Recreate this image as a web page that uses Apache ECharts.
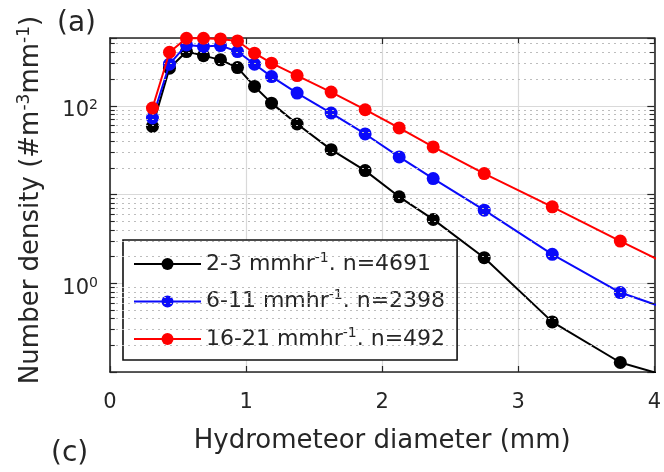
<!DOCTYPE html>
<html>
<head>
<meta charset="utf-8">
<script src="https://cdn.jsdelivr.net/npm/echarts@6/dist/echarts.min.js"></script>
<style>
html,body{margin:0;padding:0;background:#fff;}
#chart{width:664px;height:472px;}
</style>
</head>
<body>
<div id="chart"></div>
<script>
// ---- data ----
const diameters = [0.312, 0.437, 0.562, 0.687, 0.812, 0.937, 1.062, 1.187, 1.375, 1.625, 1.875, 2.125, 2.375, 2.75, 3.25, 3.75, 4.25];
const light    = [58.5, 265, 408, 367, 329, 269, 165, 107, 62.3, 32.0, 18.6, 9.42, 5.24, 1.94, 0.367, 0.128, 0.077];
const moderate = [72.8, 294, 485, 464, 476, 408, 294, 213, 139, 82.8, 48.1, 26.5, 15.1, 6.66, 2.12, 0.786, 0.426];
const heavy    = [94.2, 401, 576, 576, 566, 537, 391, 302, 219, 142.6, 90.2, 56.2, 34.4, 17.2, 7.27, 2.99, 1.26];
const seriesNames = ['2-3 mmhr-1. n=4691', '6-11 mmhr-1. n=2398', '16-21 mmhr-1. n=492'];
const seriesColors = ['#000000', '#0a0afa', '#ff0000'];
const xTicks = [0, 1, 2, 3, 4];
const yLabelExponents = [0, 2];
const minorGrid = [0.2,0.3,0.4,0.5,0.6,0.7,0.8,0.9, 2,3,4,5,6,7,8,9, 20,30,40,50,60,70,80,90, 200,300,400,500];

const FONT = 'DejaVu Sans';
const TXT = '#262626';

const chart = echarts.init(document.getElementById('chart'), null, {renderer: 'canvas'});

function pairs(ys){ return diameters.map((d,i)=>[d, ys[i]]); }

const minorLines = minorGrid.map(v => ({yAxis: v}));
const minorTicks = [];
minorGrid.forEach(v => {
  minorTicks.push([{coord:[0, v]}, {coord:[0.035, v]}]);
  minorTicks.push([{coord:[3.965, v]}, {coord:[4, v]}]);
});

const option = {
  animation: false,
  backgroundColor: '#ffffff',
  grid: {left: 110, right: 7, top: 38, bottom: 100, containLabel: false},
  xAxis: [{
    type: 'value', min: 0, max: 4, interval: 1,
    name: 'Hydrometeor diameter (mm)', nameLocation: 'middle', nameGap: 56,
    nameTextStyle: {fontFamily: FONT, fontSize: 26, color: TXT},
    axisLine: {show: true, onZero: false, lineStyle: {color: TXT, width: 1.6}},
    axisTick: {show: true, inside: true, length: 6, lineStyle: {color: TXT, width: 1.2}},
    axisLabel: {fontFamily: FONT, fontSize: 21, color: TXT, margin: 20,
      formatter: v => (xTicks.indexOf(v) >= 0 ? String(v) : '')},
    splitLine: {show: true, lineStyle: {color: '#d9d9d9', width: 1.2}}
  }, {
    type: 'value', min: 0, max: 4, interval: 1, position: 'top',
    axisLine: {show: true, onZero: false, lineStyle: {color: TXT, width: 1.6}},
    axisTick: {show: true, inside: true, length: 6, lineStyle: {color: TXT, width: 1.2}},
    axisLabel: {show: false}, splitLine: {show: false}
  }],
  yAxis: [{
    type: 'log', logBase: 10, min: 0.1, max: 580,
    name: '{t|Number density (#m}{sup|-3}{t|mm}{sup|-1}{t|)}',
    nameLocation: 'middle', nameGap: 64, nameRotate: 90,
    nameTextStyle: {fontFamily: FONT, fontSize: 26, color: TXT, padding: [0, 0, 0, 10],
      rich: {t: {fontFamily: FONT, fontSize: 26, color: TXT, lineHeight: 30},
             sup: {fontFamily: FONT, fontSize: 17, color: TXT, lineHeight: 16, verticalAlign: 'top'}}},
    axisLine: {show: true, onZero: false, lineStyle: {color: TXT, width: 1.6}},
    axisTick: {show: true, inside: true, length: 7, lineStyle: {color: TXT, width: 1.2}},
    axisLabel: {fontFamily: FONT, fontSize: 21, color: TXT, margin: 12, lineHeight: 24,
      padding: [10, 0, 0, 0],
      rich: {sup: {fontSize: 14, fontFamily: FONT, color: TXT, lineHeight: 12, verticalAlign: 'top'}},
      formatter: function (v) {
        const l = Math.log10(v), e = Math.round(l);
        if (Math.abs(l - e) > 1e-6 || yLabelExponents.indexOf(e) < 0) return '';
        return '10{sup|' + e + '}';
      }},
    splitLine: {show: true, lineStyle: {color: '#d9d9d9', width: 1.2}}
  }, {
    type: 'log', logBase: 10, min: 0.1, max: 580, position: 'right',
    axisLine: {show: true, onZero: false, lineStyle: {color: TXT, width: 1.6}},
    axisTick: {show: true, inside: true, length: 7, lineStyle: {color: TXT, width: 1.2}},
    axisLabel: {show: false}, splitLine: {show: false}
  }],
  legend: {
    data: seriesNames,
    orient: 'vertical', left: 123, top: 240,
    backgroundColor: '#ffffff', borderColor: '#111', borderWidth: 1.6, borderRadius: 0,
    padding: [11, 12, 8, 10], itemGap: 11.5, itemWidth: 67, itemHeight: 15,
    textStyle: {fontFamily: FONT, fontSize: 22, color: TXT, lineHeight: 26,
      rich: {sup: {fontSize: 14, fontFamily: FONT, color: TXT, lineHeight: 12, verticalAlign: 'top'}}},
    formatter: name => name.replace('mmhr-1', 'mmhr{sup|-1}')
  },
  graphic: [
    {type: 'text', left: 57, top: 10, style: {text: '(a)', fontFamily: FONT, fontSize: 28, fill: TXT}},
    {type: 'text', left: 51, top: 440, style: {text: '(c)', fontFamily: FONT, fontSize: 28, fill: TXT}}
  ],
  series: [
    {
      type: 'line', name: '__grid', data: [], z: 1, silent: true,
      markLine: {silent: true, symbol: 'none', animation: false, label: {show: false},
        lineStyle: {color: '#bdbdbd', width: 1.2, type: [2, 4]},
        data: minorLines}
    },
    {
      type: 'line', name: '__ticks', data: [], z: 1, silent: true,
      markLine: {silent: true, symbol: 'none', animation: false, label: {show: false},
        lineStyle: {color: TXT, width: 1.1, type: 'solid'},
        data: minorTicks}
    }
  ].concat([light, moderate, heavy].map((ys, i) => ({
    type: 'line', name: seriesNames[i], data: pairs(ys),
    xAxisIndex: 0, yAxisIndex: 0, z: 3 + i, clip: true,
    symbol: 'circle', symbolSize: 13, showSymbol: true,
    lineStyle: {color: seriesColors[i], width: 2},
    itemStyle: {color: seriesColors[i], borderWidth: 0, opacity: 1},
    emphasis: {disabled: true}
  })))
};

chart.setOption(option);
</script>
</body>
</html>
